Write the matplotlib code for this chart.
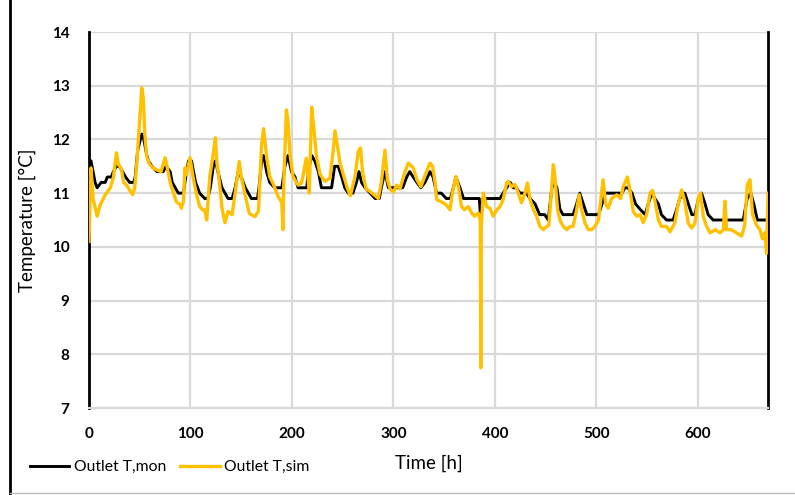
import matplotlib
matplotlib.use("Agg")
import matplotlib.pyplot as plt
from matplotlib.lines import Line2D

plt.rcParams['font.family'] = ['Lato', 'DejaVu Sans']

# ---- data ----
sim_t = [0, 2, 4, 8, 11, 16, 21, 24, 27, 29, 32, 34, 37, 40, 43, 45, 47, 49, 52, 53.5,
         55, 57, 60, 63, 67, 71, 75, 76.5, 80, 83, 86, 90, 91, 93, 94.5, 96, 99.5, 103, 106, 109,
         112, 114, 116, 119, 122.5, 124.5, 126, 129, 131, 134, 137, 141, 144, 148, 150, 154, 158, 163.5, 167, 170,
         172, 175, 178, 182, 186, 190, 191, 192, 194.5, 196, 198, 201, 206, 209.5, 214, 217, 219.4, 221.7, 224, 227.6,
         232.5, 237.4, 240.7, 242.4, 244.6, 247.3, 250.5, 254.4, 257.5, 262, 265.3, 267.5, 269.5, 273, 277, 280, 285, 288, 291.6, 294,
         296.6, 300, 303, 306.4, 311, 314.6, 319.5, 323, 327, 332.5, 336, 338.5, 341, 342.5, 346, 349, 352, 355.7, 358, 361.6,
         364, 367, 370, 373.7, 377, 380, 383.5, 385.5, 386, 386.5, 388.5, 391.8, 395, 398.3, 401.7, 405, 408, 411.5, 413, 416.4,
         419.7, 423, 426, 429.6, 432, 434.5, 438, 441, 444.3, 447.6, 451, 453, 455, 457.5, 459, 461.7, 464, 467.3, 470.7, 474,
         477, 480.4, 483, 485.4, 488.7, 492, 495.3, 498.5, 502, 506.5, 509, 511.5, 515, 520, 523.8, 526.4, 530.4, 533, 536.3, 540,
         543, 546, 549.4, 552.7, 555.3, 557.6, 561, 564, 569, 572.4, 577.3, 580, 584, 587, 590.4, 593.8, 597, 600.3, 602.6, 605.2,
         608.5, 612, 617, 621.7, 625, 626.6, 628.2, 633, 638, 643, 646, 648.6, 651.2, 653.8, 657.8, 661, 663.6, 666, 667.6, 669]
sim_v = [10.1, 11.47, 10.9, 10.57, 10.78, 10.97, 11.1, 11.29, 11.75, 11.53, 11.45, 11.2, 11.15, 11.06, 10.97, 11.1, 11.53, 12.09, 12.96, 12.77,
         12.09, 11.66, 11.53, 11.47, 11.43, 11.4, 11.66, 11.53, 11.2, 11.02, 10.84, 10.78, 10.72, 10.84, 11.47, 11.34, 11.66, 11.25, 10.97, 10.75,
         10.69, 10.69, 10.5, 11.3, 11.75, 12.03, 11.58, 11.12, 10.72, 10.45, 10.66, 10.6, 11.0, 11.59, 11.31, 10.95, 10.62, 10.56, 10.67, 11.9,
         12.2, 11.68, 11.31, 11.15, 10.95, 10.82, 10.32, 11.25, 12.55, 12.35, 11.72, 11.31, 11.15, 11.19, 11.65, 11.0, 12.6, 12.18, 11.7, 11.35,
         11.22, 11.28, 11.81, 12.16, 11.9, 11.56, 11.35, 11.1, 10.95, 11.3, 11.78, 11.84, 11.4, 11.08, 11.03, 10.98, 10.9, 11.2, 11.8, 11.25,
         11.08, 11.02, 11.15, 11.08, 11.38, 11.56, 11.47, 11.25, 11.12, 11.4, 11.56, 11.5, 11.2, 10.88, 10.85, 10.82, 10.78, 10.69, 11.0, 11.31,
         11.12, 10.75, 10.69, 10.75, 10.63, 10.57, 10.63, 10.5, 7.75, 10.4, 11.0, 10.75, 10.72, 10.57, 10.69, 10.75, 10.88, 11.19, 11.22, 11.12,
         11.16, 11.0, 10.82, 11.0, 11.19, 10.88, 10.69, 10.57, 10.38, 10.32, 10.38, 10.4, 10.88, 11.53, 11.31, 10.69, 10.5, 10.38, 10.32, 10.38,
         10.38, 10.69, 10.97, 10.69, 10.44, 10.32, 10.32, 10.38, 10.5, 11.25, 10.8, 10.72, 10.9, 10.97, 10.9, 11.12, 11.3, 11.05, 10.65, 10.57,
         10.6, 10.45, 10.6, 11.0, 11.05, 10.85, 10.5, 10.38, 10.38, 10.28, 10.45, 10.75, 11.06, 10.85, 10.44, 10.35, 10.44, 10.9, 11.0, 10.57,
         10.38, 10.26, 10.32, 10.26, 10.32, 10.85, 10.32, 10.32, 10.26, 10.2, 10.4, 11.15, 11.25, 10.6, 10.4, 10.32, 10.15, 10.26, 9.88, 11.0]

mon_t = [0, 2, 6, 8, 12, 16, 18, 22, 24, 27, 30, 33, 36, 40, 44, 45.5, 48, 52, 54, 57,
         58.5, 62, 67, 73, 76, 80, 82, 85, 88, 93, 94.5, 98, 101, 103, 105, 109, 114, 117, 119.5, 122.5,
         124.5, 127, 131, 134, 137, 141, 144, 147, 150, 154, 157, 160, 166, 167.5, 170, 172, 175, 178, 183, 190,
         193, 196, 199.5, 203, 206, 214.5, 216, 219.5, 222.5, 226, 229, 239, 242, 245.5, 249, 252, 255.5, 260, 263.5, 266,
         268.5, 272, 277, 282, 286, 288, 291.5, 295, 309, 313, 316, 319.5, 323, 327, 331, 336, 339, 342.5, 347, 352,
         356, 359, 361.5, 365.5, 369, 384.5, 386, 388, 405, 408, 411.5, 415, 418, 421, 424.5, 431, 434.5, 439.5, 444, 449,
         452.5, 456, 458.5, 461, 464, 467, 477, 480.5, 483.5, 487, 490.5, 502, 505.5, 508.5, 525, 528, 531, 535, 538.5, 543,
         548, 551, 554.5, 557.5, 561, 564, 569, 575.5, 579, 582, 587, 590.5, 594, 597, 600.5, 603.5, 607, 610, 615, 644.5,
         648.5, 652, 655, 658.5, 668.5]
mon_v = [11.3, 11.6, 11.2, 11.1, 11.2, 11.2, 11.3, 11.3, 11.4, 11.5, 11.5, 11.4, 11.3, 11.2, 11.2, 11.3, 11.8, 12.1, 12.0, 11.7,
         11.6, 11.5, 11.4, 11.4, 11.5, 11.4, 11.2, 11.1, 11.0, 11.0, 11.2, 11.6, 11.6, 11.4, 11.2, 11.0, 10.9, 10.9, 11.1, 11.5,
         11.6, 11.4, 11.1, 11.0, 10.9, 10.9, 11.1, 11.4, 11.3, 11.1, 11.0, 10.9, 10.9, 11.1, 11.6, 11.7, 11.4, 11.2, 11.1, 11.1,
         11.5, 11.7, 11.4, 11.3, 11.1, 11.1, 11.4, 11.7, 11.6, 11.4, 11.1, 11.1, 11.5, 11.5, 11.3, 11.1, 11.0, 11.0, 11.2, 11.4,
         11.2, 11.1, 11.0, 10.9, 10.9, 11.1, 11.4, 11.1, 11.1, 11.3, 11.4, 11.3, 11.2, 11.1, 11.2, 11.4, 11.3, 11.0, 11.0, 10.9,
         10.9, 11.1, 11.3, 11.1, 10.9, 10.9, 10.5, 10.9, 10.9, 11.0, 11.1, 11.2, 11.1, 11.1, 11.0, 11.0, 10.9, 10.8, 10.6, 10.6,
         10.5, 11.1, 11.2, 11.1, 10.7, 10.6, 10.6, 10.8, 11.0, 10.8, 10.6, 10.6, 10.8, 11.0, 11.0, 11.1, 11.1, 11.0, 10.8, 10.7,
         10.6, 10.8, 11.0, 10.9, 10.8, 10.6, 10.5, 10.5, 10.7, 10.9, 11.0, 10.8, 10.6, 10.6, 10.9, 11.0, 10.8, 10.6, 10.5, 10.5,
         10.9, 11.0, 10.8, 10.5, 10.5]

x_ticks = [0, 100, 200, 300, 400, 500, 600]
y_ticks = [7, 8, 9, 10, 11, 12, 13, 14]
mon_label = "Outlet T,mon"
sim_label = "Outlet T,sim"
x_label = "Time [h]"
y_label = "Temperature [°C]"

# ---- figure ----
W, H = 795, 495
fig = plt.figure(figsize=(W / 100, H / 100), dpi=100)
ax = fig.add_axes([89 / W, 1 - 408 / H, (768 - 89) / W, (408 - 32) / H])

grid_c = '#D9D9D9'
ax.set_xlim(0, 669)
ax.set_ylim(7, 14)
ax.set_xticks(x_ticks)
ax.set_yticks(y_ticks)
ax.grid(True, color=grid_c, linewidth=1.6)
ax.set_axisbelow(True)
ax.tick_params(axis='y', length=0, labelsize=11, pad=14)
ax.tick_params(axis='x', length=0, labelsize=11, pad=14)
for lab in ax.get_xticklabels() + ax.get_yticklabels():
    lab.set_fontweight('bold')

ax.spines['top'].set_visible(False)
ax.spines['bottom'].set_color(grid_c)
ax.spines['bottom'].set_linewidth(1.6)
ax.spines['left'].set_color('black')
ax.spines['left'].set_linewidth(2)
ax.spines['right'].set_color('black')
ax.spines['right'].set_linewidth(2)

ax.plot(mon_t, mon_v, color='black', linewidth=2.1, zorder=3)
ax.plot(sim_t, sim_v, color='#FFC000', linewidth=2.4, zorder=4)

ax.set_xlabel(x_label, fontsize=13.5)
ax.set_ylabel(y_label, fontsize=13.5)
ax.xaxis.set_label_coords(0.5, -(455 - 408) / (408 - 32))
ax.yaxis.set_label_coords(-(89 - 36) / (768 - 89), 0.5)

handles = [Line2D([], [], color='black', linewidth=2.1),
           Line2D([], [], color='#FFC000', linewidth=2.4)]
fig.legend(handles, [mon_label, sim_label], loc='center left',
           bbox_to_anchor=(30 / W, 1 - 467 / H), ncol=2, frameon=False,
           fontsize=11.3, handlelength=2.5, handletextpad=0.3, columnspacing=0.9,
           borderpad=0, borderaxespad=0)

# outer frame
fig.add_artist(Line2D([10 / W, 10 / W], [0, 1], color='black', linewidth=2, transform=fig.transFigure))
fig.add_artist(Line2D([10 / W, 1], [1 - 493 / H, 1 - 493 / H], color='#BFBFBF', linewidth=1, transform=fig.transFigure))

fig.savefig('out.png', dpi=100)
